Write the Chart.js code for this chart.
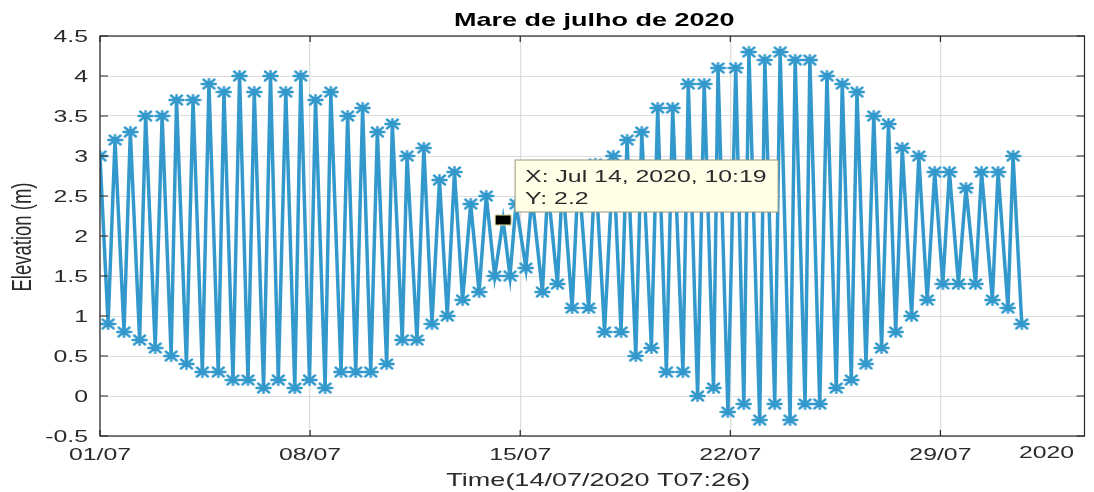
<!DOCTYPE html>
<html>
<head>
<meta charset="utf-8">
<title>Mare de julho de 2020</title>
<script src="https://cdn.jsdelivr.net/npm/chart.js@4.4.1/dist/chart.umd.min.js"></script>
<style>
  html, body { margin: 0; padding: 0; background: #fff; }
</style>
</head>
<body>
<canvas id="grafMare" width="1094" height="492"></canvas>
<script>
// dias desde 01/07/2020 00:00 (preamar / baixamar alternadas)
const tideDays = [
  0.00, 0.27, 0.50, 0.80, 1.01, 1.32, 1.52, 1.84, 2.07, 2.37,
  2.55, 2.88, 3.10, 3.41, 3.63, 3.94, 4.13, 4.43, 4.65, 4.93,
  5.14, 5.45, 5.68, 5.94, 6.19, 6.49, 6.69, 6.98, 7.18, 7.50,
  7.69, 8.03, 8.25, 8.52, 8.75, 9.02, 9.24, 9.55, 9.74, 10.07,
  10.23, 10.56, 10.79, 11.06, 11.31, 11.57, 11.81, 12.08, 12.35, 12.63,
  12.87, 13.15, 13.43, 13.66, 13.86, 14.19, 14.39, 14.74, 14.92, 15.24,
  15.41, 15.73, 15.94, 16.28, 16.50, 16.81, 17.10, 17.36, 17.56, 17.85,
  18.05, 18.37, 18.58, 18.87, 19.08, 19.42, 19.60, 19.91, 20.13, 20.44,
  20.59, 20.92, 21.18, 21.45, 21.62, 21.98, 22.15, 22.48, 22.66, 22.99,
  23.16, 23.49, 23.65, 23.98, 24.22, 24.53, 24.73, 25.03, 25.22, 25.52,
  25.78, 26.04, 26.27, 26.51, 26.73, 27.04, 27.28, 27.56, 27.81, 28.08,
  28.30, 28.60, 28.85, 29.17, 29.37, 29.73, 29.92, 30.25, 30.42, 30.71
];
// altura da maré (m)
const tideLevels = [
  3.0, 0.9, 3.2, 0.8, 3.3, 0.7, 3.5, 0.6, 3.5, 0.5,
  3.7, 0.4, 3.7, 0.3, 3.9, 0.3, 3.8, 0.2, 4.0, 0.2,
  3.8, 0.1, 4.0, 0.2, 3.8, 0.1, 4.0, 0.2, 3.7, 0.1,
  3.8, 0.3, 3.5, 0.3, 3.6, 0.3, 3.3, 0.4, 3.4, 0.7,
  3.0, 0.7, 3.1, 0.9, 2.7, 1.0, 2.8, 1.2, 2.4, 1.3,
  2.5, 1.5, 2.2, 1.5, 2.4, 1.6, 2.5, 1.3, 2.6, 1.4,
  2.7, 1.1, 2.8, 1.1, 2.9, 0.8, 3.0, 0.8, 3.2, 0.5,
  3.3, 0.6, 3.6, 0.3, 3.6, 0.3, 3.9, 0.0, 3.9, 0.1,
  4.1, -0.2, 4.1, -0.1, 4.3, -0.3, 4.2, -0.1, 4.3, -0.3,
  4.2, -0.1, 4.2, -0.1, 4.0, 0.1, 3.9, 0.2, 3.8, 0.4,
  3.5, 0.6, 3.4, 0.8, 3.1, 1.0, 3.0, 1.2, 2.8, 1.4,
  2.8, 1.4, 2.6, 1.4, 2.8, 1.2, 2.8, 1.1, 3.0, 0.9
];

const xTickDays = [0, 7, 14, 21, 28];
const xTickLabels = ["01/07", "08/07", "15/07", "22/07", "29/07"];
const yTickLabels = ["-0.5", "0", "0.5", "1", "1.5", "2", "2.5", "3", "3.5", "4", "4.5"];

const titulo = "Mare de julho de 2020";
const rotuloY = "Elevation (m)";
const rotuloX = "Time(14/07/2020 T07:26)";
const anoX = "2020";
const dicaIndice = 52; // ponto marcado pelo data tip
const dicaTexto = ["X: Jul 14, 2020, 10:19", "Y: 2.2"];

const corLinha = "#3399cc";
const corTexto = "#2b2b2b";
const esticar = 1.46; // a figura original está esticada na horizontal

// asterisco parecido com o do MATLAB
function criarAsterisco() {
    const c = document.createElement("canvas");
    c.width = 17;
    c.height = 12;
    const g = c.getContext("2d");
    g.strokeStyle = corLinha;
    g.lineWidth = 2.4;
    g.lineCap = "round";
    g.beginPath();
    g.moveTo(1.5, 6); g.lineTo(15.5, 6);
    g.moveTo(8.5, 1); g.lineTo(8.5, 11);
    g.moveTo(3, 1.5); g.lineTo(14, 10.5);
    g.moveTo(14, 1.5); g.lineTo(3, 10.5);
    g.stroke();
    return c;
}

function textoEsticado(ctx, texto, x, y, alinhar) {
    ctx.save();
    ctx.translate(x, y);
    ctx.scale(esticar, 1);
    ctx.textAlign = alinhar;
    ctx.fillText(texto, 0, 0);
    ctx.restore();
}

const moldura = {
    id: "moldura",
    afterDraw(chart) {
        const ctx = chart.ctx;
        const a = chart.chartArea;
        const sx = chart.scales.x;
        const sy = chart.scales.y;

        ctx.save();
        // caixa dos eixos
        ctx.strokeStyle = "#262626";
        ctx.lineWidth = 1.2;
        ctx.strokeRect(a.left, a.top, a.right - a.left, a.bottom - a.top);

        // marcas dos ticks
        ctx.beginPath();
        sy.ticks.forEach(t => {
            const y = sy.getPixelForValue(t.value);
            ctx.moveTo(a.left, y); ctx.lineTo(a.left + 8, y);
            ctx.moveTo(a.right, y); ctx.lineTo(a.right - 8, y);
        });
        sx.ticks.forEach(t => {
            const x = sx.getPixelForValue(t.value);
            ctx.moveTo(x, a.bottom); ctx.lineTo(x, a.bottom - 6);
            ctx.moveTo(x, a.top); ctx.lineTo(x, a.top + 6);
        });
        ctx.stroke();

        // rótulos dos ticks
        ctx.fillStyle = corTexto;
        ctx.font = "17px 'Liberation Sans', Arial, sans-serif";
        ctx.textBaseline = "middle";
        sy.ticks.forEach((t, i) => {
            textoEsticado(ctx, yTickLabels[i], a.left - 12, sy.getPixelForValue(t.value) + 1, "right");
        });
        sx.ticks.forEach((t, i) => {
            textoEsticado(ctx, xTickLabels[i], sx.getPixelForValue(t.value), a.bottom + 19, "center");
        });
        textoEsticado(ctx, anoX, a.right - 38, a.bottom + 17, "center");

        // título e rótulos dos eixos
        ctx.font = "18.5px 'Liberation Sans', Arial, sans-serif";
        textoEsticado(ctx, rotuloX, (a.left + a.right) / 2 + 6, a.bottom + 45, "center");
        ctx.save();
        ctx.translate(24, (a.top + a.bottom) / 2 + 1);
        ctx.rotate(-Math.PI / 2);
        ctx.scale(1, esticar);
        ctx.textAlign = "center";
        ctx.fillText(rotuloY, 0, 0);
        ctx.restore();

        ctx.fillStyle = "#000";
        ctx.font = "bold 18.5px 'Liberation Sans', Arial, sans-serif";
        textoEsticado(ctx, titulo, (a.left + a.right) / 2 + 2, a.top - 15, "center");

        // data tip
        const px = sx.getPixelForValue(tideDays[dicaIndice]);
        const py = sy.getPixelForValue(tideLevels[dicaIndice]);
        ctx.fillStyle = "#000";
        ctx.fillRect(px - 8, py - 5, 16, 10);
        ctx.strokeStyle = "#e8e0a0";
        ctx.lineWidth = 1;
        ctx.strokeRect(px - 8, py - 5, 16, 10);

        const bx = px + 12, by = py - 60, bw = 263, bh = 52;
        ctx.fillStyle = "#ffffe8";
        ctx.fillRect(bx, by, bw, bh);
        ctx.strokeStyle = "#9a9a80";
        ctx.strokeRect(bx, by, bw, bh);
        ctx.fillStyle = corTexto;
        ctx.font = "17px 'Liberation Sans', Arial, sans-serif";
        textoEsticado(ctx, dicaTexto[0], bx + 10, by + 17, "left");
        textoEsticado(ctx, dicaTexto[1], bx + 10, by + 39, "left");
        ctx.restore();
    }
};

const pontos = tideDays.map((d, i) => ({ x: d, y: tideLevels[i] }));

new Chart(document.getElementById("grafMare").getContext("2d"), {
    type: "line",
    data: {
        datasets: [{
            label: "Elevation",
            data: pontos,
            borderColor: corLinha,
            borderWidth: 3.5,
            pointStyle: criarAsterisco(),
            pointRadius: 6,
            tension: 0
        }]
    },
    options: {
        responsive: false,
        animation: false,
        layout: { padding: { left: 100, top: 36, right: 1, bottom: 56 } },
        plugins: {
            legend: { display: false },
            tooltip: { enabled: false }
        },
        scales: {
            x: {
                type: "linear",
                min: 0,
                max: 32.8,
                afterBuildTicks: s => { s.ticks = xTickDays.map(v => ({ value: v })); },
                afterFit: s => { s.height = 0; },
                ticks: { display: false },
                grid: { color: "#dedede", lineWidth: 1.3, drawTicks: false },
                border: { display: false }
            },
            y: {
                min: -0.5,
                max: 4.5,
                ticks: { display: false, stepSize: 0.5 },
                afterFit: s => { s.width = 0; },
                grid: { color: "#dedede", lineWidth: 1, drawTicks: false },
                border: { display: false }
            }
        }
    },
    plugins: [moldura]
});
</script>
</body>
</html>
